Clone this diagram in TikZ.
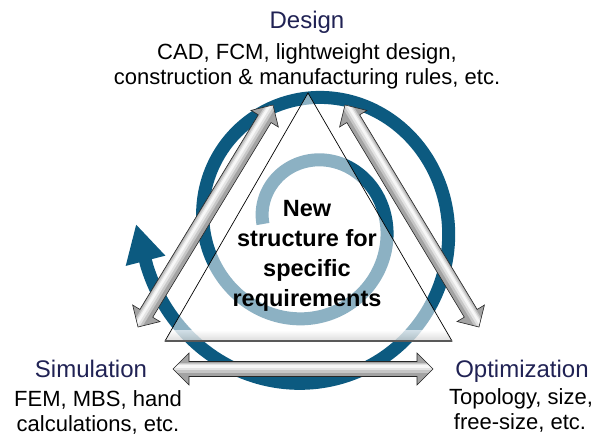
\documentclass[tikz,border=0pt]{standalone}
\usepackage{fontspec}
\setmainfont{Liberation Sans}
\usetikzlibrary{arrows.meta,calc}
\definecolor{ringblue}{RGB}{12,90,128}
\definecolor{headnavy}{RGB}{32,34,84}
\newcommand\dblarr[2]{%
  \path let \p1=($(#2)-(#1)$) in \pgfextra{%
    \pgfmathsetmacro\myang{atan2(\y1,\x1)}%
    \pgfmathsetmacro\mylen{veclen(\x1,\y1)}%
    \xdef\ArrAng{\myang}\xdef\ArrLen{\mylen}};
  \pgfmathsetmacro\ArrLenB{\ArrLen-16}%
  \begin{scope}[shift={(#1)}, rotate=\ArrAng]
    \begin{scope}
      \clip (0pt,0pt) -- (16pt,16pt) -- (16pt,7.5pt) -- (\ArrLenB pt,7.5pt) -- (\ArrLenB pt,16pt) -- (\ArrLen pt,0pt) -- (\ArrLenB pt,-16pt) -- (\ArrLenB pt,-7.5pt) -- (16pt,-7.5pt) -- (16pt,-16pt) -- cycle;
      \fill[gray!72] (-5pt,-20pt) rectangle (\ArrLen pt+5pt,20pt);
      \draw[gray!45, line width=10pt] (-5pt,1.5pt) -- (\ArrLen pt+5pt,1.5pt);
      \draw[gray!22, line width=6pt] (-5pt,2pt) -- (\ArrLen pt+5pt,2pt);
      \draw[gray!6, line width=2.5pt] (-5pt,2.5pt) -- (\ArrLen pt+5pt,2.5pt);
    \end{scope}
    \draw[arrline] (0pt,0pt) -- (16pt,16pt) -- (16pt,7.5pt) -- (\ArrLenB pt,7.5pt) -- (\ArrLenB pt,16pt) -- (\ArrLen pt,0pt) -- (\ArrLenB pt,-16pt) -- (\ArrLenB pt,-7.5pt) -- (16pt,-7.5pt) -- (16pt,-16pt) -- cycle;
  \end{scope}}
\begin{document}
\begin{tikzpicture}[x=1pt,y=-1pt,
  arrline/.style={black!85, line width=0.6pt, line join=miter},
  head/.style={text=headnavy, font=\fontsize{24}{28}\selectfont, anchor=base, inner sep=0pt},
  body/.style={text=black, font=\fontsize{22}{26}\selectfont, anchor=base, inner sep=0pt},
  core/.style={text=black, font=\bfseries\fontsize{23.5}{30}\selectfont, align=center, inner sep=0pt},
  ring/.style={ringblue, line width=13pt, line cap=butt}]
\useasboundingbox (0,0) rectangle (606,439);

% spiral
\draw[ring, -{Triangle[width=38pt,length=38pt]}]
  plot[domain=0:706, samples=360, variable=\s]
  ({310-(47+14.5*\s/90+0.12*(\s/90)^2)*cos(\s)},
   {224-1.03*(47+14.5*\s/90+0.12*(\s/90)^2)*sin(\s)}) -- (136,224);

% triangle
\coordinate (apex) at (308,93);
\coordinate (bl) at (165,341);
\coordinate (br) at (452,341);
\fill[white, fill opacity=0.53] (apex) -- (bl) -- (br) -- cycle;
\begin{scope}
  \clip (apex) -- (bl) -- (br) -- cycle;
  \shade[top color=white, bottom color=gray!45, opacity=0.6] (150,330) rectangle (470,341);
\end{scope}
\draw[black, line width=0.7pt, line join=miter] (apex) -- (bl) -- (br) -- cycle;
\draw[black!65, line width=1.4pt] (bl) -- (br);

% double arrows
\coordinate (L1) at (138,327);
\coordinate (L2) at (273,105);
\coordinate (R1) at (345,105);
\coordinate (R2) at (479,327);
\coordinate (B1) at (173,369);
\coordinate (B2) at (433,369);
\dblarr{L1}{L2}
\dblarr{R1}{R2}
\dblarr{B1}{B2}

% texts
\node[head] (design) at (307,28) {Design};
\node[body] (design1) at (307,59) {CAD, FCM, lightweight design,};
\node[body] (design2) at (307,84) {construction \& manufacturing rules, etc.};
\node[head] (sim) at (91,377) {Simulation};
\node[body] (sim1) at (98,406) {FEM, MBS, hand};
\node[body] (sim2) at (98,431) {calculations, etc.};
\node[head] (opt) at (522,377) {Optimization};
\node[body] (opt1) at (521,404) {Topology, size,};
\node[body] (opt2) at (520,429) {free-size, etc.};
\node[core] (center) at (307,256) {New\\structure for\\specific\\requirements};
\end{tikzpicture}
\end{document}
